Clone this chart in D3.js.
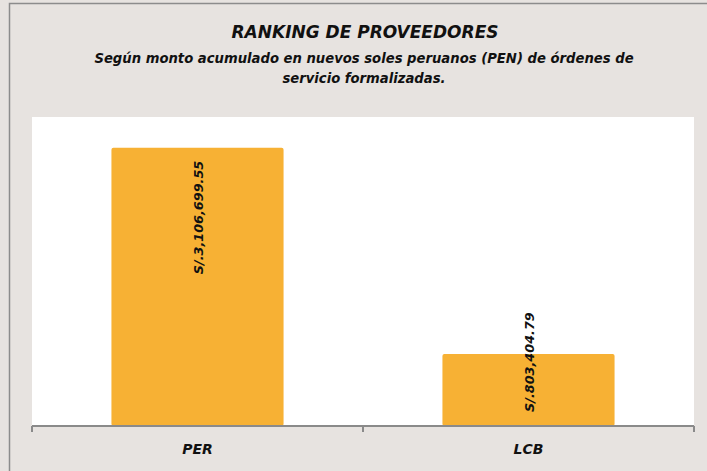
<!DOCTYPE html>
<html>
<head>
<meta charset="utf-8">
<script src="https://cdn.jsdelivr.net/npm/d3@7"></script>
<style>
  html, body { margin: 0; padding: 0; background: #fff; }
  svg { display: block; font-family: "DejaVu Sans", sans-serif; font-style: italic; font-weight: 700; }
</style>
</head>
<body>
<svg width="707" height="471"></svg>
<script>
  //chart data
  const categories = ["PER", "LCB"]
    , amounts = [3106699.55, 803404.79]
    , title = "RANKING DE PROVEEDORES"
    , subtitle = ["Según monto acumulado en nuevos soles peruanos (PEN) de órdenes de", "servicio formalizadas."];

  const svg = d3.select("svg")
    , width = +svg.attr("width")
    , height = +svg.attr("height");

  const plot = {left: 32, right: 694, top: 117, bottom: 426};

  //chart background + frame
  svg.append("rect").attr("x", 0).attr("y", 0).attr("width", width).attr("height", height).attr("fill", "#e7e3e0");
  svg.append("path").attr("d", "M9.5," + height + "V3.5H" + width).attr("fill", "none").attr("stroke", "#8c8c8c").attr("stroke-width", 1.5);

  //plot area
  svg.append("rect").attr("x", plot.left).attr("y", plot.top)
    .attr("width", plot.right - plot.left).attr("height", plot.bottom - plot.top).attr("fill", "#fff");

  //titles
  svg.append("text").attr("x", 365).attr("y", 38).attr("text-anchor", "middle")
    .style("font-size", "17px").attr("fill", "#111").text(title);
  svg.selectAll(".sub").data(subtitle).enter().append("text").attr("class", "sub")
    .attr("x", 364).attr("y", (d, i) => 63 + i * 20).attr("text-anchor", "middle")
    .style("font-size", "13.2px").attr("fill", "#111").text(d => d);

  //scales
  let x = d3.scaleBand().domain(categories).range([plot.left, plot.right]).paddingInner(0.48).paddingOuter(0.24);
  let y = d3.scaleLinear().domain([0, 3450000]).range([plot.bottom, plot.top]);

  //bars
  svg.selectAll(".bar").data(amounts).enter().append("rect").attr("class", "bar")
    .attr("x", (d, i) => x(categories[i]))
    .attr("y", d => y(d))
    .attr("width", x.bandwidth())
    .attr("height", d => y(0) - y(d))
    .attr("rx", 2)
    .attr("fill", "#f7b134");

  //axis line + ticks at category boundaries
  const step = x.step()
    , bounds = [plot.left].concat(categories.map(c => x(c) + x.bandwidth() + step * 0.24));
  bounds[bounds.length - 1] = plot.right;
  svg.append("line").attr("x1", plot.left).attr("x2", plot.right).attr("y1", plot.bottom).attr("y2", plot.bottom)
    .attr("stroke", "#8a8a8a").attr("stroke-width", 2);
  svg.selectAll(".tick").data(bounds).enter().append("line").attr("class", "tick")
    .attr("x1", d => d).attr("x2", d => d).attr("y1", plot.bottom).attr("y2", plot.bottom + 6)
    .attr("stroke", "#8a8a8a").attr("stroke-width", 2);

  //category labels
  svg.selectAll(".cat").data(categories).enter().append("text").attr("class", "cat")
    .attr("x", d => x(d) + x.bandwidth() / 2).attr("y", 454).attr("text-anchor", "middle")
    .style("font-size", "14px").attr("fill", "#111").text(d => d);

  //value labels - vertical
  const fmt = d3.format(",.2f");
  svg.selectAll(".val").data(amounts).enter().append("text").attr("class", "val")
    .style("font-size", "12.8px").attr("fill", "#111").attr("text-anchor", "end")
    .text(d => "S/." + fmt(d))
    .each(function(d, i) {
      let len = this.getComputedTextLength()
        , cx = x(categories[i]) + x.bandwidth() / 2
        , endY = Math.min(y(d) + 13, y(0) - 14 - len);
      d3.select(this).attr("transform", "translate(" + (cx + 5) + "," + endY + ") rotate(-90)");
    });
</script>
</body>
</html>
